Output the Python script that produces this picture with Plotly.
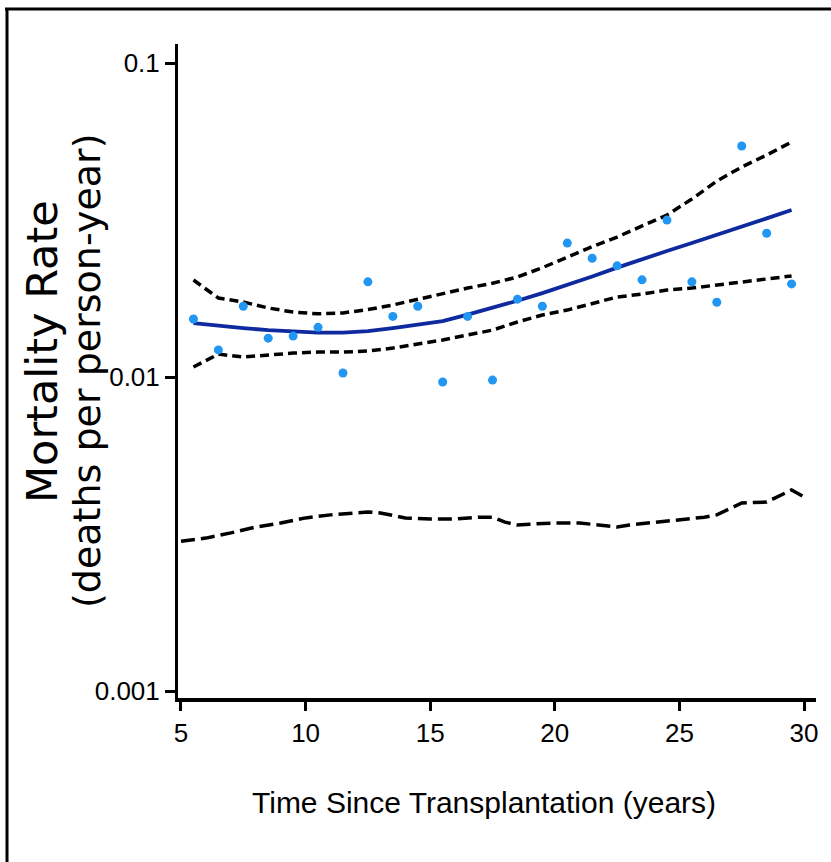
import plotly.graph_objects as go

# ---- data ----
obs_years = [5.5, 6.5, 7.5, 8.5, 9.5, 10.5, 11.5, 12.5, 13.5, 14.5, 15.5, 16.5, 17.5,
             18.5, 19.5, 20.5, 21.5, 22.5, 23.5, 24.5, 25.5, 26.5, 27.5, 28.5, 29.5]
obs_rate = [0.0153, 0.0122, 0.0168, 0.0133, 0.0135, 0.0144, 0.0103, 0.0201, 0.0156,
            0.0168, 0.00964, 0.0156, 0.00978, 0.0177, 0.0168, 0.0267, 0.0239, 0.0226,
            0.0204, 0.0316, 0.0201, 0.0173, 0.0544, 0.0287, 0.0198]

fit_years = obs_years
fit_rate = [0.01486, 0.01454, 0.01432, 0.01410, 0.01395, 0.01385, 0.01385, 0.01401,
            0.01432, 0.01465, 0.01508, 0.01580, 0.01660, 0.01750, 0.01851, 0.01963,
            0.02090, 0.02230, 0.02376, 0.02520, 0.02672, 0.02832, 0.03010, 0.03200, 0.03402]
upper_rate = [0.02037, 0.01785, 0.01733, 0.01659, 0.01610, 0.01590, 0.01600, 0.01640,
              0.01696, 0.01770, 0.01850, 0.01920, 0.01990, 0.02082, 0.02230, 0.02410,
              0.02600, 0.02792, 0.03027, 0.03281, 0.03689, 0.04208, 0.04665, 0.05093, 0.05603]
lower_rate = [0.01076, 0.01183, 0.01158, 0.01175, 0.01192, 0.01201, 0.01201, 0.01210,
              0.01237, 0.01274, 0.01312, 0.01361, 0.01411, 0.01497, 0.01576, 0.01634,
              0.01709, 0.01798, 0.01837, 0.01892, 0.01920, 0.01963, 0.02007, 0.02052, 0.02098]

pop_years = [5, 6, 7, 8, 9, 10, 11, 12, 12.5, 13, 14, 15, 16, 17, 17.5, 18, 18.5, 19,
             20, 21, 22, 22.5, 23, 24, 25, 26, 26.5, 27.5, 28.5, 29.5, 30]
pop_rate = [0.00300, 0.00307, 0.00319, 0.00333, 0.00343, 0.00356, 0.00364, 0.00369,
            0.00372, 0.00369, 0.00356, 0.00353, 0.00353, 0.00358, 0.00358, 0.00345,
            0.00338, 0.00340, 0.00343, 0.00343, 0.00335, 0.00333, 0.00338, 0.00345,
            0.00350, 0.00358, 0.00364, 0.00397, 0.00400, 0.00437, 0.00415]

x_ticks = [5, 10, 15, 20, 25, 30]
y_ticks = [0.001, 0.01, 0.1]
y_ticktext = ["0.001", "0.01", "0.1"]

ARIAL = "Liberation Sans, Arial, sans-serif"
SANS = "DejaVu Sans, Liberation Sans, Arial, sans-serif"

fig = go.Figure()
fig.add_trace(go.Scatter(x=pop_years, y=pop_rate, mode="lines",
                         line=dict(color="black", width=3.5, dash="14px,6px")))
fig.add_trace(go.Scatter(x=fit_years, y=upper_rate, mode="lines",
                         line=dict(color="black", width=3.5, dash="9px,5px")))
fig.add_trace(go.Scatter(x=fit_years, y=lower_rate, mode="lines",
                         line=dict(color="black", width=3.5, dash="9px,5px")))
fig.add_trace(go.Scatter(x=fit_years, y=fit_rate, mode="lines",
                         line=dict(color="#0e2a9e", width=3.8)))
fig.add_trace(go.Scatter(x=obs_years, y=obs_rate, mode="markers",
                         marker=dict(color="#2196f3", size=9, symbol="circle")))

L, R, T, B = 178, 15, 44, 164
W, H = 831, 862
pw, ph = W - L - R, H - T - B

def px(xpix):
    return (xpix - L) / pw

def py(ypix):
    return (H - B - ypix) / ph

fig.update_layout(
    width=W, height=H,
    margin=dict(l=L, r=R, t=T, b=B),
    paper_bgcolor="white", plot_bgcolor="white",
    showlegend=False,
    xaxis=dict(range=[4.88, 30.48], tickvals=x_ticks, showgrid=False, zeroline=False,
               showline=True, linecolor="black", linewidth=4,
               ticks="outside", ticklen=9, tickwidth=2.5, tickcolor="black",
               tickfont=dict(family=ARIAL, size=26, color="black")),
    yaxis=dict(type="log", range=[-3.022, -0.9395], tickvals=y_ticks, ticktext=y_ticktext,
               showgrid=False, zeroline=False,
               showline=True, linecolor="black", linewidth=3,
               ticks="outside", ticklen=10, tickwidth=2.5, tickcolor="black",
               tickfont=dict(family=ARIAL, size=26, color="black")),
    annotations=[
        dict(text="Time Since Transplantation (years)", xref="paper", yref="paper",
             x=px(484), y=py(802), xanchor="center", yanchor="middle", showarrow=False,
             font=dict(family=ARIAL, size=30, color="black")),
        dict(text="Mortality Rate", xref="paper", yref="paper", textangle=-90,
             x=px(42), y=py(352), xanchor="center", yanchor="middle", showarrow=False,
             font=dict(family=SANS, size=43, color="black")),
        dict(text="(deaths per person-year)", xref="paper", yref="paper", textangle=-90,
             x=px(87), y=py(371), xanchor="center", yanchor="middle", showarrow=False,
             font=dict(family=SANS, size=38, color="black")),
    ],
    shapes=[
        dict(type="line", xref="paper", yref="paper", x0=px(7), x1=px(7),
             y0=py(8), y1=py(870), line=dict(color="black", width=3)),
        dict(type="line", xref="paper", yref="paper", x0=px(5), x1=px(840),
             y0=py(9), y1=py(9), line=dict(color="black", width=3)),
    ],
)

fig.write_html("out.html")
